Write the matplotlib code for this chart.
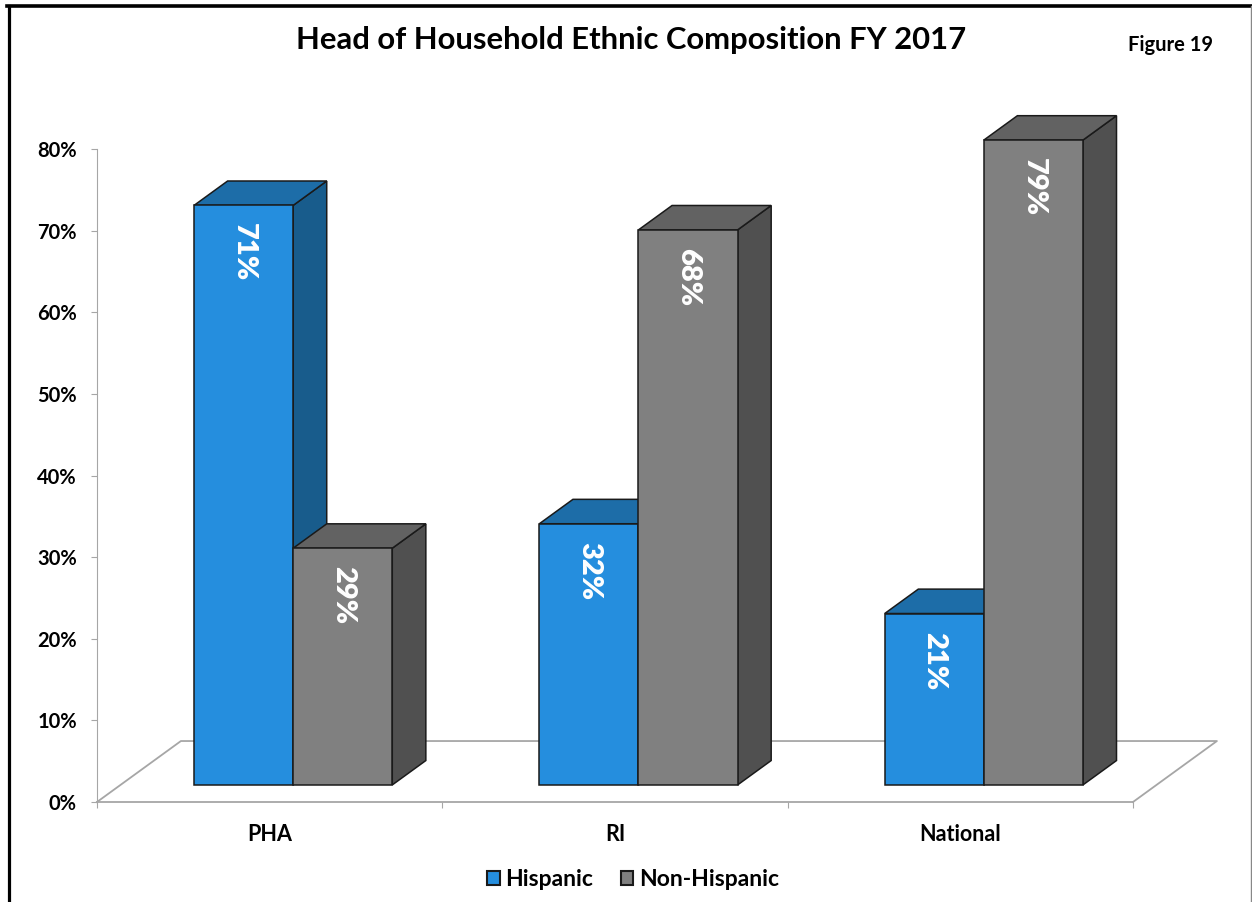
import matplotlib
matplotlib.use("Agg")
import matplotlib.pyplot as plt
from matplotlib.patches import Polygon, Rectangle
from matplotlib.lines import Line2D

categories = ["PHA", "RI", "National"]
series_names = ["Hispanic", "Non-Hispanic"]
hispanic = [71, 32, 21]
non_hispanic = [29, 68, 79]
y_ticks = [0, 10, 20, 30, 40, 50, 60, 70, 80]

# front / top / side shades for each series
shades = {
    "Hispanic": ("#258EDE", "#1D6DA8", "#185C8C"),
    "Non-Hispanic": ("#808080", "#626262", "#505050"),
}

plt.rcParams["font.family"] = ["Lato", "DejaVu Sans"]
plt.rcParams["font.weight"] = "bold"

W, H = 1252, 902
fig = plt.figure(figsize=(W / 100, H / 100), dpi=100)

# plot area: x axis runs 97..1133 px, 0% sits at y=802 px, 80% at y=149 px
ax = fig.add_axes([97 / W, 1 - 802 / H, (1133 - 97) / W, (802 - 149) / H])
ax.set_xlim(0, len(categories))
ax.set_ylim(0, 80)

# oblique depth of the floor, in data units
floor_dx, floor_dy = 0.243, 7.47
z_front, z_back = 0.28, 0.68
bar_w = 0.287
edge = "#1a1a1a"
grid_grey = "#a6a6a6"

# floor outline
ax.plot([0, floor_dx, len(categories) + floor_dx, len(categories)],
        [0, floor_dy, floor_dy, 0], color=grid_grey, lw=1.3, clip_on=False,
        zorder=1)


def draw_bar(x0, value, colors):
    fx, fy = z_front * floor_dx, z_front * floor_dy
    bx, by = z_back * floor_dx, z_back * floor_dy
    left, right = x0 + fx, x0 + bar_w + fx
    front = [(left, fy), (right, fy), (right, fy + value), (left, fy + value)]
    top = [(left, fy + value), (right, fy + value),
           (x0 + bar_w + bx, by + value), (x0 + bx, by + value)]
    side = [(right, fy), (x0 + bar_w + bx, by),
            (x0 + bar_w + bx, by + value), (right, fy + value)]
    for pts, col in ((side, colors[2]), (top, colors[1]), (front, colors[0])):
        ax.add_patch(Polygon(pts, closed=True, facecolor=col, edgecolor=edge,
                             lw=1.1, clip_on=False, zorder=3))
    ax.annotate(f"{value}%", xy=((left + right) / 2, fy + value),
                xytext=(0, -13), textcoords="offset points",
                rotation=270, ha="center", va="top", color="white",
                fontsize=21, fontweight="heavy", zorder=4,
                annotation_clip=False)


for i in range(len(categories)):
    start = i + 0.5 - bar_w
    draw_bar(start, hispanic[i], shades["Hispanic"])
    draw_bar(start + bar_w, non_hispanic[i], shades["Non-Hispanic"])

# axes styling
for side in ("top", "right"):
    ax.spines[side].set_visible(False)
ax.spines["left"].set_color(grid_grey)
ax.spines["bottom"].set_color(grid_grey)
ax.spines["bottom"].set_linewidth(1.3)
ax.set_yticks(y_ticks)
ax.set_yticklabels([f"{t}%" for t in y_ticks])
ax.tick_params(axis="y", length=4.5, color=grid_grey, pad=10, labelsize=14.5)
ax.set_xticks(range(len(categories) + 1))
ax.set_xticklabels([])
ax.set_xticks([i + 0.5 for i in range(len(categories))], minor=True)
ax.set_xticklabels(categories, minor=True)
ax.tick_params(axis="x", which="major", length=4, color=grid_grey)
ax.tick_params(axis="x", which="minor", length=0, pad=16, labelsize=15.5)
ax.patch.set_visible(False)

fig.text(631 / W, 1 - 40 / H, "Head of Household Ethnic Composition FY 2017",
         ha="center", va="center", fontsize=22.3, fontweight="bold")
fig.text(1170 / W, 1 - 45 / H, "Figure 19", ha="center", va="center",
         fontsize=14.5, fontweight="bold")

handles = [Rectangle((0, 0), 1, 1, facecolor=shades[n][0], edgecolor=edge, lw=1.5)
           for n in series_names]
fig.legend(handles, series_names, loc="center", ncol=2,
           bbox_to_anchor=(633 / W, 1 - 880 / H), frameon=False,
           prop={"weight": "bold", "size": 16.5}, handlelength=0.55,
           handleheight=0.55, handletextpad=0.25, columnspacing=1.2)

# page frame
fig.add_artist(Line2D([8.5 / W, 8.5 / W], [0, 1 - 6 / H], color="black",
                      lw=2.3, transform=fig.transFigure))
fig.add_artist(Line2D([7 / W, 1251 / W], [1 - 6 / H, 1 - 6 / H], color="black",
                      lw=2.6, transform=fig.transFigure))
fig.add_artist(Line2D([1250.5 / W, 1250.5 / W], [0, 1 - 6 / H], color="#888888",
                      lw=1, transform=fig.transFigure))

fig.savefig("out.png", dpi=100)
